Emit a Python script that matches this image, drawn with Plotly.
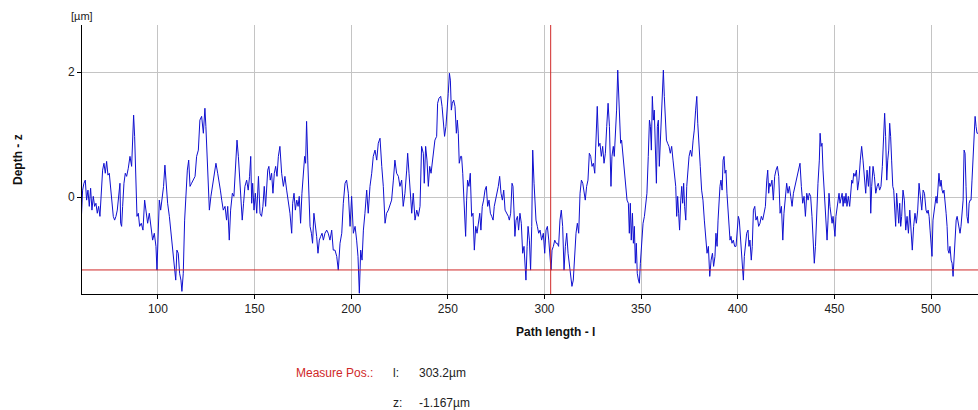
import plotly.graph_objects as go

# ---- profile data (path length l in µm, depth z in µm) ----
l_a = [60.16, 61.02, 61.71, 62.40, 63.09, 63.78, 64.47, 65.16, 65.85, 66.54,
       67.23, 67.92, 68.61, 69.30, 69.99, 70.68, 71.37, 72.06, 72.75, 73.44,
       74.13, 74.82, 75.51, 76.20, 76.89, 77.58, 78.27, 78.96, 79.65, 80.34,
       80.69, 81.20, 81.72, 82.41, 83.10, 83.79, 84.65, 85.52, 86.38, 86.90,
       87.41, 87.93, 88.45, 89.14, 89.83, 90.52, 91.38, 92.24, 93.11, 93.97,
       94.66, 95.52, 96.38, 97.25, 98.11, 98.97, 99.49, 100.0, 100.7, 101.4,
       102.1, 102.9, 103.6, 104.3, 105.0, 105.9, 106.7, 107.6, 108.5, 109.2,
       109.8, 110.5, 111.2, 111.9, 112.4, 113.1, 113.8, 114.5, 115.2, 115.9]
z_a = [-0.47, 0.11, 0.22, 0.27, -0.05, 0.11, -0.15, 0.14, -0.21, 0.01,
       -0.15, -0.10, -0.26, -0.15, -0.31, 0.01, 0.43, 0.54, 0.38, 0.57,
       0.35, 0.38, 0.17, -0.05, -0.31, -0.37, -0.31, -0.21, 0.01, 0.22,
       -0.42, -0.47, -0.15, 0.22, 0.38, 0.33, 0.46, 0.65, 0.49, 1.13,
       1.31, 0.97, 0.43, -0.31, -0.26, -0.47, -0.42, -0.53, -0.05, -0.26,
       -0.42, -0.26, -0.53, -0.69, -0.58, -0.79, -1.17, -0.69, -0.05, -0.21,
       -0.05, 0.17, 0.51, 0.17, -0.10, -0.31, -0.58, -0.79, -1.11, -1.33,
       -0.85, -0.90, -1.22, -1.33, -1.51, -1.22, -0.37, 0.17, 0.43, 0.59]

l_b = [116.6, 117.4, 118.3, 119.2, 120.0, 120.9, 121.7, 122.6, 123.5, 124.3,
       124.8, 125.5, 126.0, 126.6, 127.4, 128.3, 129.2, 130.0, 130.9, 131.6,
       132.3, 133.0, 133.8, 134.7, 135.5, 136.1, 136.9, 137.6, 138.5, 139.3,
       140.2, 140.9, 141.6, 142.1, 142.8, 143.6, 144.3, 145.0, 145.9, 146.7,
       147.4, 148.0, 148.5, 149.0, 149.7, 150.4, 151.1, 152.0, 152.8, 153.6,
       154.3, 155.0, 155.7, 156.8, 157.4, 158.1, 158.8, 159.5, 160.2, 160.9,
       161.6, 162.3, 163.1, 164.0, 164.9, 165.7, 166.6, 167.4, 168.3]
z_b = [0.17, 0.22, 0.27, 0.33, 0.65, 0.75, 1.23, 1.29, 1.02, 1.42,
       1.13, 0.70, 0.38, -0.21, 0.01, 0.17, 0.38, 0.54, 0.38, 0.27,
       0.11, -0.05, -0.21, -0.15, -0.37, -0.15, -0.69, -0.21, 0.06, 0.01,
       0.59, 0.91, 0.65, 0.38, -0.05, -0.37, -0.10, 0.17, 0.27, 0.11,
       0.33, 0.65, -0.10, 0.22, -0.21, 0.06, -0.26, 0.33, -0.26, -0.31,
       -0.15, 0.17, -0.15, 0.43, 0.49, 0.27, 0.38, 0.06, 0.38, 0.49,
       0.33, 0.65, 0.81, 0.38, 0.17, 0.33, 0.11, -0.05, -0.26]

l_c = [169.2, 169.7, 170.4, 171.1, 171.8, 172.5, 173.1, 173.8, 174.5, 175.2,
       175.9, 176.4, 176.9, 177.5, 178.0, 178.7, 179.4, 180.0, 180.7, 181.4,
       182.1, 182.8, 183.5, 184.2, 184.9, 185.6, 186.4, 187.3, 188.1, 189.0,
       189.9, 190.7, 191.6, 192.5, 193.3, 194.2, 195.1, 195.9, 196.8, 197.6,
       198.5, 199.4, 200.2, 201.1, 202.0, 202.8, 203.5, 204.2, 204.9, 205.6,
       206.3, 207.1, 208.0, 208.8, 209.7, 210.6, 211.4, 212.3, 213.2, 214.0,
       214.9, 215.8, 216.6, 217.5, 218.3, 219.2, 220.1, 220.9, 221.8, 222.6,
       223.5, 224.4]
z_c = [-0.58, -0.10, 0.06, -0.21, -0.05, -0.15, 0.01, -0.42, 0.06, 0.43,
       0.65, 0.54, 1.21, 0.59, 0.06, -0.47, -0.58, -0.74, -0.26, -0.42,
       -0.63, -0.90, -0.69, -0.63, -0.58, -0.69, -0.58, -0.53, -0.58, -0.69,
       -0.53, -0.85, -0.85, -0.95, -1.17, -0.74, -0.58, -0.10, 0.22, 0.27,
       0.06, -0.47, 0.01, -0.58, -0.47, -0.69, -0.95, -1.54, -0.85, -1.01,
       -0.53, -0.26, 0.11, -0.26, 0.17, 0.38, 0.65, 0.75, 0.59, 0.86,
       0.94, 0.49, 0.17, -0.42, -0.26, -0.21, -0.10, -0.05, 0.27, 0.59,
       0.38, 0.33]

l_d = [225.2, 226.1, 226.9, 227.8, 228.7, 229.2, 229.9, 230.6, 231.3, 232.1,
       233.0, 233.9, 234.7, 235.6, 236.4, 237.3, 237.8, 238.5, 239.2, 239.9,
       240.6, 241.3, 242.0, 242.7, 243.3, 244.2, 244.7, 245.4, 246.3, 247.0,
       247.7, 248.3, 249.0, 249.7, 250.2, 250.8, 251.3, 251.8, 252.3, 253.0,
       253.7, 254.4, 254.9, 255.4, 255.9, 256.6, 257.1, 257.7, 258.2, 258.7,
       259.2, 259.7, 260.2, 260.9, 261.6, 262.3, 263.0, 263.7, 264.4, 265.1,
       265.8, 266.5, 267.1, 267.8, 268.5, 269.2, 269.9, 270.6, 271.3, 272.0,
       272.7, 273.4, 274.0, 274.7, 275.4, 276.1, 276.8, 277.5, 278.2, 278.9]
z_d = [0.17, 0.27, -0.15, 0.06, 0.43, 0.70, 0.38, -0.05, -0.26, 0.06,
       -0.37, -0.21, -0.31, -0.15, 0.81, 0.70, 0.22, 0.81, 0.59, 0.17,
       0.49, 0.38, 0.59, 0.75, 0.91, 0.97, 1.50, 1.58, 1.61, 1.45,
       1.23, 0.97, 1.13, 1.39, 1.66, 1.98, 1.87, 1.39, 1.50, 1.55,
       1.45, 1.02, 1.23, 1.02, 0.54, 0.65, 0.65, 0.38, 0.06, -0.26,
       -0.63, -0.05, 0.27, 0.17, 0.38, -0.31, -0.26, -0.85, -0.47, -0.58,
       -0.37, -0.26, -0.53, -0.15, -0.05, 0.11, 0.17, -0.15, -0.05, -0.26,
       -0.31, -0.37, -0.15, -0.05, 0.06, 0.17, 0.33, 0.06, -0.05, 0.11]

l_e = [279.6, 280.4, 281.3, 281.8, 282.5, 283.2, 283.7, 284.2, 284.7, 285.3,
       286.0, 286.6, 287.3, 288.0, 288.7, 289.4, 289.9, 290.4, 291.0, 291.5,
       292.2, 292.8, 293.4, 293.9, 294.6, 295.1, 295.6, 296.3, 297.0, 297.7,
       298.5, 299.4, 300.1, 300.8, 301.5, 302.2, 302.8, 303.4, 303.9, 304.6,
       305.3, 306.0, 306.6, 307.3, 308.0, 308.7, 309.4, 310.1, 310.8, 311.5,
       312.2, 312.9, 313.5, 314.2, 314.9, 315.6, 316.3, 317.0, 317.7, 318.4,
       319.1, 319.8, 320.4, 321.1, 321.8, 322.5, 323.2, 323.9, 324.6, 325.3,
       326.0, 326.7, 327.3, 328.0, 328.7, 329.4, 330.1, 330.8, 331.5, 332.2,
       332.9, 333.6]
z_e = [-0.21, -0.26, -0.31, -0.37, -0.26, 0.22, 0.17, -0.21, -0.63, -0.37,
       -0.31, -0.53, -0.26, -0.42, -0.90, -0.79, -1.11, -1.33, -0.79, -0.47,
       -0.69, -1.17, -0.47, 0.75, 0.22, -0.26, -0.37, -0.47, -0.58, -0.53,
       -0.69, -0.58, -0.90, -0.53, -0.47, -0.69, -1.01, -1.17, -0.85, -0.79,
       -0.69, -0.74, -0.74, -0.79, -0.37, -0.21, -0.47, -1.17, -0.79, -0.58,
       -0.90, -1.06, -1.27, -1.43, -1.33, -0.85, -0.58, -0.42, -0.58, 0.06,
       0.27, 0.22, 0.06, -0.05, 0.17, 0.27, 0.70, 0.65, 0.49, 0.54,
       0.38, 0.97, 1.45, 0.81, 0.86, 0.65, 0.81, 0.54, 0.70, 1.13,
       1.50, 1.13]

l_f = [333.9, 334.4, 334.9, 335.6, 336.1, 336.8, 337.3, 337.9, 338.4, 338.9,
       339.4, 339.9, 340.6, 341.3, 342.0, 342.7, 343.4, 343.9, 344.4, 344.9,
       345.5, 346.0, 346.5, 347.0, 347.5, 348.0, 348.6, 349.1, 349.6, 350.3,
       351.0, 351.7, 352.4, 353.0, 353.7, 354.3, 354.8, 355.3, 355.8, 356.3,
       356.8, 357.4, 357.9, 358.4, 358.9, 359.4, 359.9, 360.5, 361.0, 361.5,
       362.0, 362.5, 363.1, 363.7, 364.4, 365.1, 365.8, 366.5, 367.2, 367.9,
       368.4, 368.9, 369.4, 369.9, 370.5, 371.0, 371.5, 372.0, 372.5, 373.1,
       373.6, 374.1, 374.8, 375.5, 376.2, 376.9, 377.5, 378.2, 378.8, 379.3,
       379.9, 380.6, 381.3, 382.0, 382.7, 383.4, 384.1, 384.8, 385.5, 386.2,
       386.9, 387.5, 388.2]
z_f = [0.70, 0.17, 0.65, 0.81, 0.65, 1.02, 1.39, 2.03, 1.61, 1.39,
       0.86, 0.91, 0.65, 0.38, 0.17, -0.05, -0.10, -0.58, -0.10, -0.69,
       -0.26, -0.74, -0.47, -1.06, -0.74, -1.22, -1.33, -1.38, -1.06, -0.79,
       -0.42, -0.31, -0.10, 0.06, 0.65, 1.23, 1.13, 0.75, 1.61, 1.23,
       1.39, 0.65, 0.22, 1.13, 1.23, 0.49, 0.91, 1.34, 1.82, 2.03,
       1.61, 1.29, 0.91, 0.86, 0.81, 0.70, 0.81, 0.59, 0.33, 0.17,
       -0.31, 0.01, -0.26, -0.53, -0.05, 0.17, -0.10, 0.22, -0.15, -0.37,
       0.17, 0.43, 0.65, 0.75, 0.65, 0.91, 1.07, 1.39, 1.61, 1.18,
       0.75, 0.49, 0.11, -0.05, -0.37, -0.58, -0.90, -0.79, -1.27, -1.01,
       -0.90, -1.11, -0.95]

l_g = [388.7, 389.3, 389.8, 390.3, 390.8, 391.3, 391.9, 392.4, 392.9, 393.4,
       393.9, 394.4, 395.0, 395.5, 396.0, 396.5, 397.0, 397.7, 398.4, 399.1,
       399.8, 400.3, 400.8, 401.3, 401.9, 402.4, 402.9, 403.4, 403.9, 404.6,
       405.3, 405.8, 406.3, 407.0, 407.5, 408.1, 408.8, 409.4, 410.1, 410.8,
       411.5, 412.2, 412.9, 413.6, 414.3, 415.0, 415.5, 416.0, 416.5, 417.0,
       417.7, 418.4, 419.1, 419.8, 420.5, 421.2, 421.9, 422.6, 423.3, 423.9,
       424.6, 425.3, 426.0, 426.7, 427.4, 428.1, 428.8, 429.5, 430.2, 430.8,
       431.5, 432.2, 432.9, 433.6, 434.3, 435.0, 435.7, 436.4, 437.0, 437.7,
       438.4, 439.1, 439.6, 440.2, 440.8, 441.5, 442.2]
z_g = [-0.58, -0.79, -0.37, -0.05, 0.17, 0.27, 0.11, 0.59, 0.65, 0.38,
       0.43, 0.06, -0.26, -0.58, -0.69, -0.63, -0.74, -0.69, -0.79, -0.79,
       -0.47, -0.31, -0.37, -0.58, -0.85, -1.06, -1.33, -0.95, -0.79, -0.58,
       -0.53, -0.79, -0.69, -1.01, -0.79, -0.21, -0.15, -0.37, -0.31, -0.47,
       -0.42, -0.31, -0.37, -0.26, -0.15, 0.27, 0.43, 0.06, 0.22, 0.17,
       0.27, -0.05, 0.33, 0.43, 0.49, 0.33, -0.26, -0.15, -0.69, -0.26,
       0.06, 0.22, 0.06, 0.17, 0.01, -0.15, 0.06, 0.17, 0.22, 0.33,
       0.43, 0.54, 0.17, -0.10, 0.01, -0.31, 0.06, -0.05, 0.06, 0.01,
       -0.31, -0.69, -1.06, -0.79, -0.26, 0.22, 0.59]

l_h = [442.6, 443.1, 443.6, 444.1, 444.6, 445.1, 445.7, 446.2, 446.7, 447.2,
       447.7, 448.3, 448.8, 449.3, 449.8, 450.3, 450.8, 451.4, 451.9, 452.4,
       452.9, 453.4, 454.0, 454.5, 455.0, 455.5, 456.0, 456.5, 457.2, 457.9,
       458.4, 459.0, 459.5, 460.0, 460.7, 461.4, 462.0, 462.7, 463.4, 464.1,
       464.8, 465.5, 466.2, 466.9, 467.6, 468.3, 468.8, 469.3, 470.0, 470.7,
       471.4, 472.1, 472.7, 473.4, 474.1, 474.8, 475.5, 476.0, 476.5, 477.1,
       477.6, 478.1, 478.6, 479.1, 479.6, 480.2, 480.7, 481.2, 481.7, 482.2,
       482.8, 483.3, 483.8, 484.3, 484.8, 485.5, 486.2, 486.9, 487.6, 488.3,
       489.0, 489.7, 490.3, 491.0, 491.7, 492.4, 493.1, 493.8, 494.5, 495.2,
       495.9, 496.6]
z_h = [1.02, 0.81, 0.86, 0.43, 0.17, -0.26, -0.47, -0.69, -0.37, 0.06,
       -0.15, -0.26, -0.42, -0.31, -0.47, -0.63, -0.31, -0.15, -0.05, 0.06,
       -0.10, 0.01, 0.06, -0.15, 0.01, -0.10, 0.06, -0.15, 0.01, -0.15,
       0.06, 0.27, 0.22, 0.38, 0.33, 0.43, 0.11, 0.27, 0.59, 0.81,
       0.59, 0.27, 0.06, 0.43, 0.17, 0.49, -0.26, 0.17, 0.49, 0.33,
       0.06, 0.17, 0.22, 0.11, 0.17, 0.49, 1.07, 1.34, 0.97, 0.27,
       0.59, 0.75, 1.18, 0.97, 0.59, 0.17, 0.11, -0.15, -0.47, 0.06,
       -0.31, -0.42, -0.10, -0.47, -0.31, 0.11, -0.05, -0.53, -0.31, -0.58,
       -0.21, -0.63, -0.85, -0.47, -0.26, -0.42, -0.21, 0.22, -0.05, -0.21,
       0.11, 0.06]

l_i = [497.4, 498.0, 498.5, 499.0, 499.5, 500.0, 500.5, 501.0, 501.6, 502.1,
       502.6, 503.1, 503.6, 504.1, 504.7, 505.2, 505.7, 506.2, 506.7, 507.3,
       507.8, 508.3, 508.8, 509.3, 509.8, 510.4, 510.9, 511.4, 511.9, 512.4,
       513.0, 513.5, 514.0, 514.5, 515.0, 515.5, 516.0, 516.6, 517.1, 517.6,
       518.1, 518.6, 519.2, 519.7, 520.2, 520.7, 521.2, 521.7, 522.3, 522.8,
       523.3, 523.8, 524.3]
z_i = [-0.21, -0.26, -0.21, -0.31, -0.53, -0.69, -0.95, -0.37, -0.21, -0.10,
       0.01, -0.10, 0.17, 0.38, 0.17, 0.27, 0.11, 0.06, 0.11, -0.05,
       -0.26, -0.47, -0.85, -0.90, -0.79, -1.01, -1.06, -1.27, -0.95, -0.53,
       -0.37, -0.31, -0.42, -0.47, -0.58, -0.47, -0.26, -0.05, 0.75, 0.70,
       0.17, -0.31, -0.42, -0.10, -0.05, -0.05, 0.27, 0.59, 0.91, 1.29,
       1.13, 1.02, 1.02]

x_ticks = [100, 150, 200, 250, 300, 350, 400, 450, 500]
y_ticks = [0, 2]
measure_l = 303.2
measure_z = -1.167
x_range = [60.7, 524.3]
y_range = [-1.552, 2.752]

path = l_a + l_b + l_c + l_d + l_e + l_f + l_g + l_h + l_i
depth = z_a + z_b + z_c + z_d + z_e + z_f + z_g + z_h + z_i

FONT = "Liberation Sans, Arial, sans-serif"
RED = "#d02828"

fig = go.Figure()
fig.add_trace(go.Scatter(x=path, y=depth, mode="lines",
                         line=dict(color="#1010d0", width=1),
                         hoverinfo="skip", showlegend=False))

fig.add_shape(type="line", xref="paper", yref="y", x0=0, x1=1,
              y0=measure_z, y1=measure_z, line=dict(color=RED, width=1))
fig.add_shape(type="line", xref="x", yref="paper", x0=measure_l, x1=measure_l,
              y0=0, y1=1, line=dict(color=RED, width=1))

fig.update_layout(
    width=978, height=410,
    margin=dict(l=82, r=0, t=25, b=116),
    paper_bgcolor="white", plot_bgcolor="white",
    font=dict(family=FONT, size=12, color="#000"),
    xaxis=dict(range=x_range, tickvals=x_ticks, ticktext=[str(v) for v in x_ticks],
               showgrid=True, gridcolor="#c4c4c4", gridwidth=1, zeroline=False,
               showline=True, linecolor="#000", linewidth=1,
               ticks="outside", ticklen=4, tickcolor="#000",
               tickfont=dict(size=12, color="#222")),
    yaxis=dict(range=y_range, tickvals=y_ticks, ticktext=[str(v) for v in y_ticks],
               showgrid=True, gridcolor="#c4c4c4", gridwidth=1, zeroline=False,
               showline=True, linecolor="#000", linewidth=1,
               ticks="outside", ticklen=4, tickcolor="#000",
               tickfont=dict(size=12, color="#222")),
)

ann = [
    dict(text="[µm]", x=0.0, y=1.035, xanchor="center", yanchor="middle",
         font=dict(size=11, color="#222")),
    dict(text="<b>Depth - z</b>", x=-0.072, y=0.5, xanchor="center", yanchor="middle",
         textangle=-90, font=dict(size=12, color="#111")),
    dict(text="<b>Path length - l</b>", x=0.528, y=-0.142, xanchor="center",
         yanchor="middle", font=dict(size=12, color="#111")),
    dict(text="Measure Pos.:", x=0.327, y=-0.293, xanchor="right", yanchor="middle",
         font=dict(size=12, color=RED)),
    dict(text="l:", x=0.345, y=-0.293, xanchor="left", yanchor="middle",
         font=dict(size=12, color="#222")),
    dict(text=f"{measure_l}µm", x=0.374, y=-0.293, xanchor="left", yanchor="middle",
         font=dict(size=12, color="#222")),
    dict(text="z:", x=0.345, y=-0.405, xanchor="left", yanchor="middle",
         font=dict(size=12, color="#222")),
    dict(text=f"{measure_z}µm", x=0.374, y=-0.405, xanchor="left", yanchor="middle",
         font=dict(size=12, color="#222")),
]
for a in ann:
    fig.add_annotation(xref="paper", yref="paper", showarrow=False, **a)

# remove the default page margin so the 978x410 figure fills the window exactly
fig.write_html(
    "out.html",
    config={"displayModeBar": False},
    post_script="document.body.style.margin='0';"
                "document.documentElement.style.overflow='hidden';",
)
